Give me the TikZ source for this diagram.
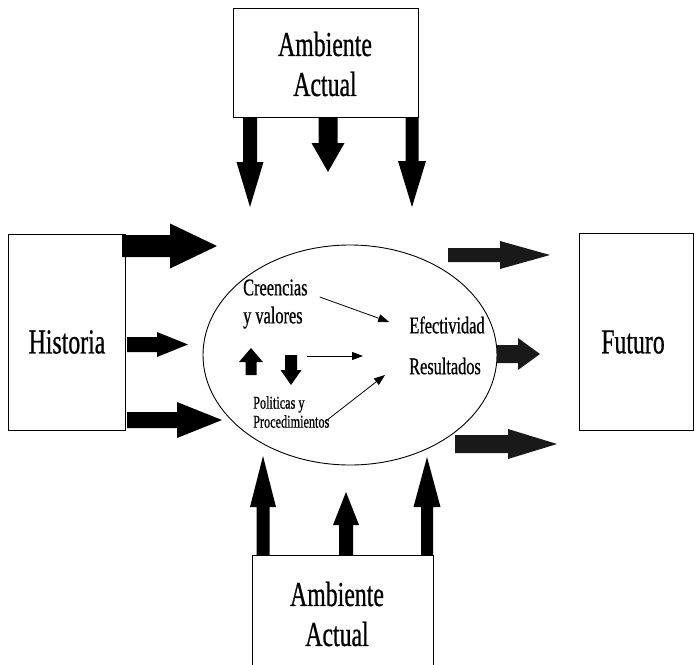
\documentclass[tikz,border=0pt]{standalone}
\usepackage{fontspec}
\setmainfont{Liberation Serif}[FakeStretch=0.68, FakeBold=0.6]
\usetikzlibrary{shapes.geometric,arrows.meta,calc}

% block arrows: horizontal [fill]{x start}{y}{x head base}{x tip}{shaft half}{head half}
\newcommand\blkH[7][blockfill]{%
  \fill[#1] ({#2},{#3-#6}) -- ({#4},{#3-#6}) -- ({#4},{#3-#7}) -- ({#5},{#3})
    -- ({#4},{#3+#7}) -- ({#4},{#3+#6}) -- ({#2},{#3+#6}) -- cycle;}
% vertical [fill]{x}{y start}{y head base}{y tip}{shaft half}{head half}
\newcommand\blkV[7][blockfill]{%
  \fill[#1] ({#2-#6},{#3}) -- ({#2-#6},{#4}) -- ({#2-#7},{#4}) -- ({#2},{#5})
    -- ({#2+#7},{#4}) -- ({#2+#6},{#4}) -- ({#2+#6},{#3}) -- cycle;}

\tikzset{
  blockfill/.style={fill=black},
  greyfill/.style={fill=black!90},
  box/.style={draw, line width=0.9pt, rectangle, inner sep=0pt},
  big/.style={font=\fontsize{35}{40}\selectfont, align=center},
  mid/.style={font=\fontsize{24}{28}\selectfont, align=left, inner sep=0pt},
  small/.style={font=\fontsize{18}{19}\selectfont, align=left, inner sep=0pt},
  thin/.style={line width=0.8pt, -{Triangle[length=11pt,width=8pt]}},
}

\begin{document}
\begin{tikzpicture}[x=1pt,y=-1pt]
\useasboundingbox (0,0) rectangle (696,664);
\clip (0,0) rectangle (696,664);
\fill[white] (0,0) rectangle (696,664);

% boxes
\node[box, minimum width=185pt, minimum height=109pt] (top) at (325.5,62.5) {};
\node[box, minimum width=117pt, minimum height=196pt] (hist) at (66.5,332) {};
\node[box, minimum width=114pt, minimum height=197pt] (fut) at (636,331.5) {};
\node[box, minimum width=181pt, minimum height=130pt] (bot) at (342.5,620) {};
\node[draw, line width=0.9pt, ellipse, minimum width=294pt, minimum height=220pt] (core) at (350,355) {};

% box labels
\node[big] (topt) at (325,64) {Ambiente\\Actual};
\node[big] (histt) at (67,342) {Historia};
\node[big] (futt) at (633,342) {Futuro};
\node[big] (bott) at (337,614) {Ambiente\\Actual};

% labels inside the ellipse
\node[mid, anchor=west] (cre) at (243,304) {Creencias\\y valores};
\node[mid] (efe) at (447,325) {Efectividad};
\node[mid] (res) at (445,366) {Resultados};
\node[small, anchor=west] (pol) at (253,412) {Politicas y\\Procedimientos};

% inner connectors
\coordinate (creA) at ($(cre.east)+(12,-7)$);
\coordinate (efeA) at ($(efe.west)+(-20,-3)$);
\draw[thin] (creA) -- (efeA);
\coordinate (polM) at (307,356);
\coordinate (resM) at (363,356);
\draw[thin] (polM) -- (resM);
\coordinate (polA) at ($(pol.south east)+(-5,-6)$);
\coordinate (resA) at ($(res.west)+(-24,9)$);
\draw[thin] (polA) -- (resA);

% small up/down block arrows
\blkV{251}{375}{362}{348}{5.5}{12}
\blkV{291}{355}{370}{385}{6}{10.5}

% arrows from Historia
\blkH{122}{246}{170}{217}{11}{22.5}
\blkH{127}{344.5}{157}{188}{7.5}{12.5}
\blkH{127}{420}{177}{222}{8}{18}

% arrows toward Futuro
\blkH[greyfill]{448}{255}{500}{550}{7}{14}
\blkH[greyfill]{497}{354}{518}{540}{9}{16}
\blkH[greyfill]{455}{444}{508}{557}{9}{15}

% arrows from the upper Ambiente Actual
\blkV{250}{117}{162}{207}{7}{13.5}
\blkV{328}{117}{143}{172}{9.5}{16.5}
\blkV{412}{117}{161}{207}{6.5}{14}

% arrows from the lower Ambiente Actual
\blkV{263}{555}{507}{456}{6.5}{13}
\blkV{346}{555}{525}{492}{7}{13}
\blkV{427}{555}{507}{457}{6}{13.5}
\end{tikzpicture}
\end{document}
